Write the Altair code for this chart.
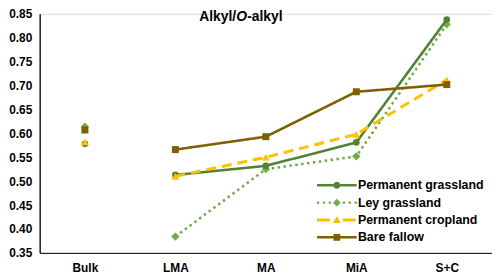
import altair as alt
import pandas as pd

categories = ["Bulk", "LMA", "MA", "MiA", "S+C"]
series_names = ["Permanent grassland", "Ley grassland", "Permanent cropland", "Bare fallow"]
perm_grass = [0.578, 0.513, 0.532, 0.581, 0.838]
ley_grass = [0.614, 0.384, 0.525, 0.552, 0.828]
perm_crop = [0.582, 0.510, 0.550, 0.598, 0.712]
bare_fallow = [0.607, 0.566, 0.593, 0.687, 0.702]
y_ticks = [0.35, 0.40, 0.45, 0.50, 0.55, 0.60, 0.65, 0.70, 0.75, 0.80, 0.85]

colors = ["#548235", "#70AD47", "#FFC000", "#7F6000"]
FONT = "Liberation Sans"

rows = []
for name, vals in zip(series_names, [perm_grass, ley_grass, perm_crop, bare_fallow]):
    for c, v in zip(categories, vals):
        rows.append({"category": c, "series": name, "value": v})
df = pd.DataFrame(rows)

x_enc = alt.X("category:N", sort=categories,
              scale=alt.Scale(type="point", padding=0.5, domain=categories),
              axis=alt.Axis(title=None, labelAngle=0, ticks=False, grid=False,
                            labelFont=FONT, labelFontWeight="bold", labelFontSize=12,
                            labelColor="black", labelPadding=10,
                            domainColor="black", domainWidth=1))
y_enc = alt.Y("value:Q",
              scale=alt.Scale(domain=[0.35, 0.85], nice=False, zero=False),
              axis=alt.Axis(title=None, values=y_ticks, format=".2f", ticks=False, grid=False,
                            labelFont=FONT, labelFontWeight="bold", labelFontSize=12,
                            labelColor="black", labelPadding=8,
                            domainColor="black", domainWidth=1.3))

base = alt.Chart(df)

styles = {
    "Permanent grassland": dict(color=colors[0], dash=[1, 0], width=2.6, shape="circle", size=45),
    "Ley grassland": dict(color=colors[1], dash=[2.5, 3.5], width=2.6, shape="diamond", size=70),
    "Permanent cropland": dict(color=colors[2], dash=[10, 6], width=3, shape="triangle-up", size=60),
    "Bare fallow": dict(color=colors[3], dash=[1, 0], width=2.6, shape="square", size=50),
}
order = ["Ley grassland", "Permanent grassland", "Permanent cropland", "Bare fallow"]

layers = []
for name in order:
    s = styles[name]
    line = base.transform_filter(
        (alt.datum.series == name) & (alt.datum.category != "Bulk")
    ).mark_line(color=s["color"], strokeWidth=s["width"], strokeDash=s["dash"]).encode(x=x_enc, y=y_enc)
    pts = base.transform_filter(alt.datum.series == name).mark_point(
        filled=True, opacity=1, color=s["color"], shape=s["shape"], size=s["size"]
    ).encode(x=x_enc, y=y_enc)
    layers += [line, pts]

# legend glyphs: line segments + marker as custom symbol paths.
# Symbol size 100 -> 1 unit = 5px; glyph drawn from -5px to +35px around the symbol anchor.
K = 4.0
def tx(x):
    return round((x + 1) * K - 1, 3)

def ty(y):
    return round(y * K, 3)

def rect(x0, x1, h):
    return f"M{tx(x0)},{ty(-h)}H{tx(x1)}V{ty(h)}H{tx(x0)}Z"

def circle(r):
    R = ty(r)
    cx = tx(0)
    return f"M{cx + R},0A{R},{R},0,1,1,{cx - R},0A{R},{R},0,1,1,{cx + R},0Z"

def poly(pts):
    return "M" + "L".join(f"{tx(x)},{ty(y)}" for x, y in pts) + "Z"

p_grass = rect(-1, -0.16, 0.065) + rect(0.16, 1, 0.065) + circle(0.175)
p_ley = "".join(rect(x - 0.06, x + 0.06, 0.06) for x in [-0.95, -0.65, -0.35, 0.35, 0.65, 0.95]) + \
    poly([(0, -0.2), (0.2, 0), (0, 0.2), (-0.2, 0)])
p_crop = rect(-1, -0.35, 0.075) + rect(0.3, 0.95, 0.075) + poly([(0, -0.2), (0.2, 0.15), (-0.2, 0.15)])
p_fallow = rect(-1, -0.17, 0.065) + rect(0.17, 1, 0.065) + poly([(-0.17, -0.17), (0.17, -0.17), (0.17, 0.17), (-0.17, 0.17)])

legend_layer = base.transform_filter("false").mark_point(filled=True, opacity=1).encode(
    x=x_enc, y=y_enc,
    color=alt.Color("series:N", scale=alt.Scale(domain=series_names, range=colors),
                    legend=alt.Legend(title=None, orient="none", legendX=279, legendY=167,
                                      symbolSize=100, symbolStrokeWidth=0,
                                      labelFont=FONT, labelFontWeight="bold", labelFontSize=12.5,
                                      labelColor="black", labelOffset=30, rowPadding=4.5, padding=0)),
    shape=alt.Shape("series:N", scale=alt.Scale(domain=series_names,
                                                range=[p_grass, p_ley, p_crop, p_fallow])),
)
layers.append(legend_layer)

# title built from three text marks (the O is italic)
def title_part(txt, x, align, style):
    return alt.Chart(pd.DataFrame({"t": [txt]})).mark_text(
        font=FONT, fontSize=14, fontWeight="bold", fontStyle=style, align=align,
        baseline="alphabetic", color="black"
    ).encode(text="t:N", x=alt.value(x), y=alt.value(7))

layers += [
    title_part("Alkyl/", 198.5, "right", "normal"),
    title_part("O", 198.5, "left", "italic"),
    title_part("-alkyl", 209.6, "left", "normal"),
]

chart = alt.layer(*layers).properties(
    width=457, height=241.5,
    autosize=alt.AutoSizeParams(type="none"),
    padding={"left": 32, "top": 4.5, "right": 0, "bottom": 24},
).configure_view(stroke=None).configure(background="white")

chart.save("out.html", embed_options={"renderer": "svg", "actions": False})
